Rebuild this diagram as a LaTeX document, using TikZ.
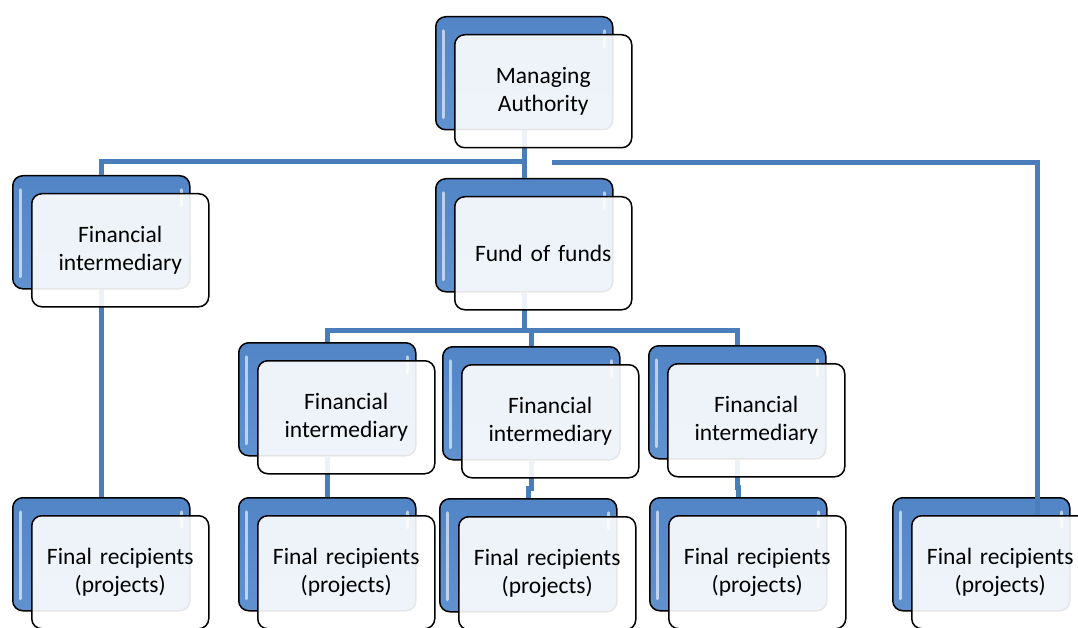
\documentclass[tikz,border=0pt]{standalone}
\usepackage{fontspec}
\setmainfont{Carlito}
\usepackage{xcolor}
\usepackage{tikz}
\definecolor{linkblue}{RGB}{74,126,187}
\definecolor{boxblue}{RGB}{82,133,198}
\definecolor{boxblueb}{RGB}{96,146,208}

\begin{document}
\begin{tikzpicture}[x=1pt, y=-1pt]
    \tikzset{backbox/.style={draw=black, line width=1.5pt, rounded corners=10pt,
        top color=boxblue, bottom color=boxblueb, anchor=north west,
        minimum width=177pt, minimum height=113pt, inner sep=0pt,
        path picture={
            \draw[white, opacity=0.6, line width=3pt, line cap=round]
                ([xshift=8pt, yshift=-14pt]path picture bounding box.north west)
                -- ([xshift=8pt, yshift=12pt]path picture bounding box.south west);
            \draw[white, opacity=0.6, line width=3pt, line cap=round]
                ([xshift=-8pt, yshift=-14pt]path picture bounding box.north east)
                -- ([xshift=-8pt, yshift=-30pt]path picture bounding box.north east);
        }}}
    \tikzset{frontbox/.style={draw=black, line width=1.5pt, rounded corners=10pt,
        fill=white, fill opacity=0.9, text opacity=1, anchor=north west,
        minimum width=177pt, minimum height=113pt, inner sep=0pt,
        text width=170pt, align=center,
        font=\fontsize{23.5}{28.5}\selectfont}}
    \tikzset{link/.style={draw=linkblue, line width=5pt}}
    \useasboundingbox (0,0) rectangle (1078,628);
    \clip (0,0) rectangle (1078,628);
    % back boxes
    \foreach \n/\x/\y in {ma/435/16, lfi/12/175, fof/435/178,
        fia/238/342, fib/442/346, fic/648/345,
        fra/12/497, frb/238/497, frc/439/498, frd/649/497, fre/892/497}
        \node[backbox] (\n b) at (\x,\y) {};
    % connectors
    \draw[link] (mab.south) -- ++(0,31) -| (lfib.north);
    \draw[link] (mab.south) -- (fofb.north);
    \draw[link] (fofb.south) -- ++(0,38) -| (fiab.north);
    \draw[link] (fofb.south) -- ++(0,38) -| (fibb.north);
    \draw[link] (fofb.south) -- ++(0,38) -| (ficb.north);
    \foreach \a/\b in {lfi/fra, fia/frb, fib/frc, fic/frd}
        \draw[link] (\a b.south) -- ++(0,28) -| (\b b.north);
    \coordinate (direct) at (552,163);
    \coordinate (directend) at (1037,517);
    \draw[link] (direct) -| (directend);
    % front boxes
    \foreach \n/\x/\y/\t in {ma/435/16/{Managing\\Authority},
        lfi/12/175/{Financial\\intermediary}, fof/435/178/{Fund of funds},
        fia/238/342/{Financial\\intermediary}, fib/442/346/{Financial\\intermediary},
        fic/648/345/{Financial\\intermediary},
        fra/12/497/{Final recipients\\(projects)}, frb/238/497/{Final recipients\\(projects)},
        frc/439/498/{Final recipients\\(projects)}, frd/649/497/{Final recipients\\(projects)},
        fre/892/497/{Final recipients\\(projects)}}
        \node[frontbox] (\n) at (\x+19,\y+18) {\t};
\end{tikzpicture}
\end{document}
